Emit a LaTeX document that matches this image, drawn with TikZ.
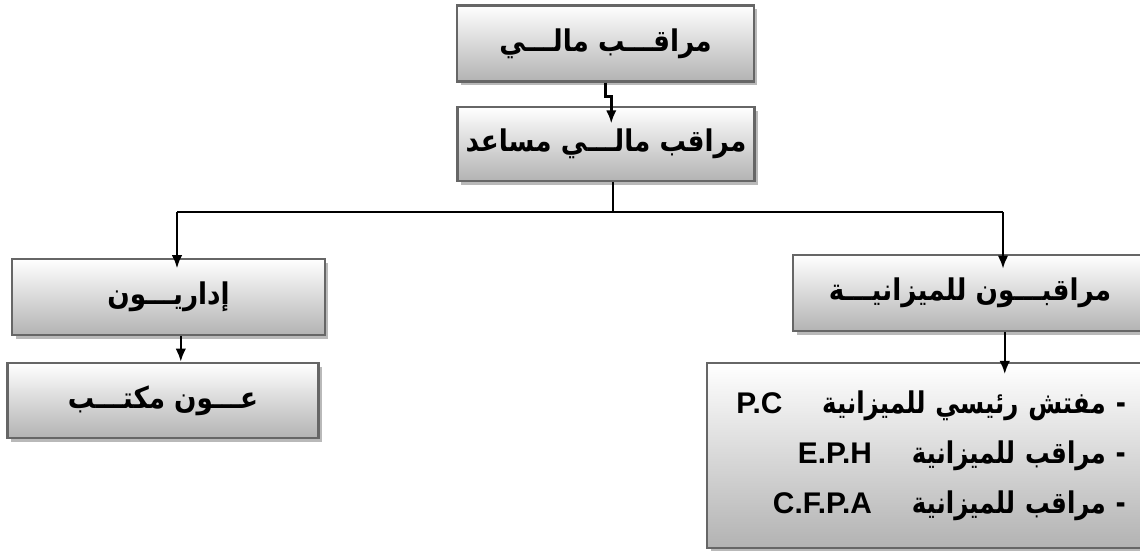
\documentclass[tikz,border=0pt]{standalone}
\usepackage{fontspec}
\setmainfont{Liberation Sans}
\newfontfamily\latinfont{Liberation Sans}
\newfontfamily\arabicfont[Script=Arabic,FakeStretch=0.88]{DejaVu Sans}
\newfontfamily\arabiclist[Script=Arabic,FakeStretch=0.82]{DejaVu Sans}
\TeXXeTstate=1
\usetikzlibrary{arrows.meta,shadows}
\tikzset{font=\bfseries\fontsize{17}{20}\selectfont}
\tikzset{box/.style={draw=gray!80!black,line width=1.3pt,top color=white,bottom color=gray!60,
    drop shadow={shadow xshift=2pt,shadow yshift=-2pt,fill=gray!55,opacity=1},
    minimum width=5.94cm,minimum height=1.52cm}}
\tikzset{link/.style={line width=1.4pt,-{Latex[length=7.5pt,width=6pt]}}}
\newcommand{\artext}[1]{\mbox{\arabicfont\beginR #1\endR}}
\newcommand{\listline}[2]{\mbox{\arabiclist\beginR #1\quad\ \beginL{\latinfont #2}\endL\endR}}

\begin{document}
\begin{tikzpicture}[x=0.02cm,y=-0.02cm]
  \useasboundingbox (0,0) rectangle (1140,554);

  \node[box] (chief) at (605.5,43.5) {\artext{مراقـــب مالـــي}};
  \node[box,minimum height=1.48cm] (assist) at (606,144) {\artext{مراقب مالـــي مساعد}};
  \node[box,minimum width=6.26cm] (admin) at (168.5,297) {\artext{إداريـــون}};
  \node[box,minimum width=6.22cm,minimum height=1.5cm] (clerk) at (163,400.5) {\artext{عـــون مكتـــب}};
  \node[box,minimum width=7.08cm] (budget) at (970,293) {\artext{مراقبـــون للميزانيـــة}};
  \node[box,minimum width=8.86cm,minimum height=3.7cm,text width=7.9cm,inner xsep=0.48cm,
    align=right,font=\bfseries\fontsize{17}{28.5}\selectfont] (list) at (928.5,455.5)
    {\listline{- مفتش رئيسي للميزانية}{P.C}\\
     \listline{- مراقب للميزانية}{E.P.H}\\
     \listline{- مراقب للميزانية}{C.F.P.A}};

  \coordinate (split) at (613,212);
  \coordinate (hl) at (177,212);
  \coordinate (hr) at (1003,212);

  \draw[link] (chief.south) -- ++(0,14) -| ([xshift=3pt,yshift=-10pt]assist.north);
  \draw[line width=1.4pt] (assist.south -| split) -- (split);
  \draw[line width=1.4pt] (hl) -- (hr);
  \draw[link] (hl) -- ([yshift=-6pt]hl |- admin.north);
  \draw[link] (hr) -- ([yshift=-8.5pt]hr |- budget.north);
  \draw[link] ([xshift=7pt]admin.south) -- ([xshift=7pt]admin.south |- clerk.north);
  \draw[link] ([xshift=1pt]budget.south -| hr) -- ([xshift=1pt,yshift=-7pt]hr |- list.north);

\end{tikzpicture}
\end{document}
